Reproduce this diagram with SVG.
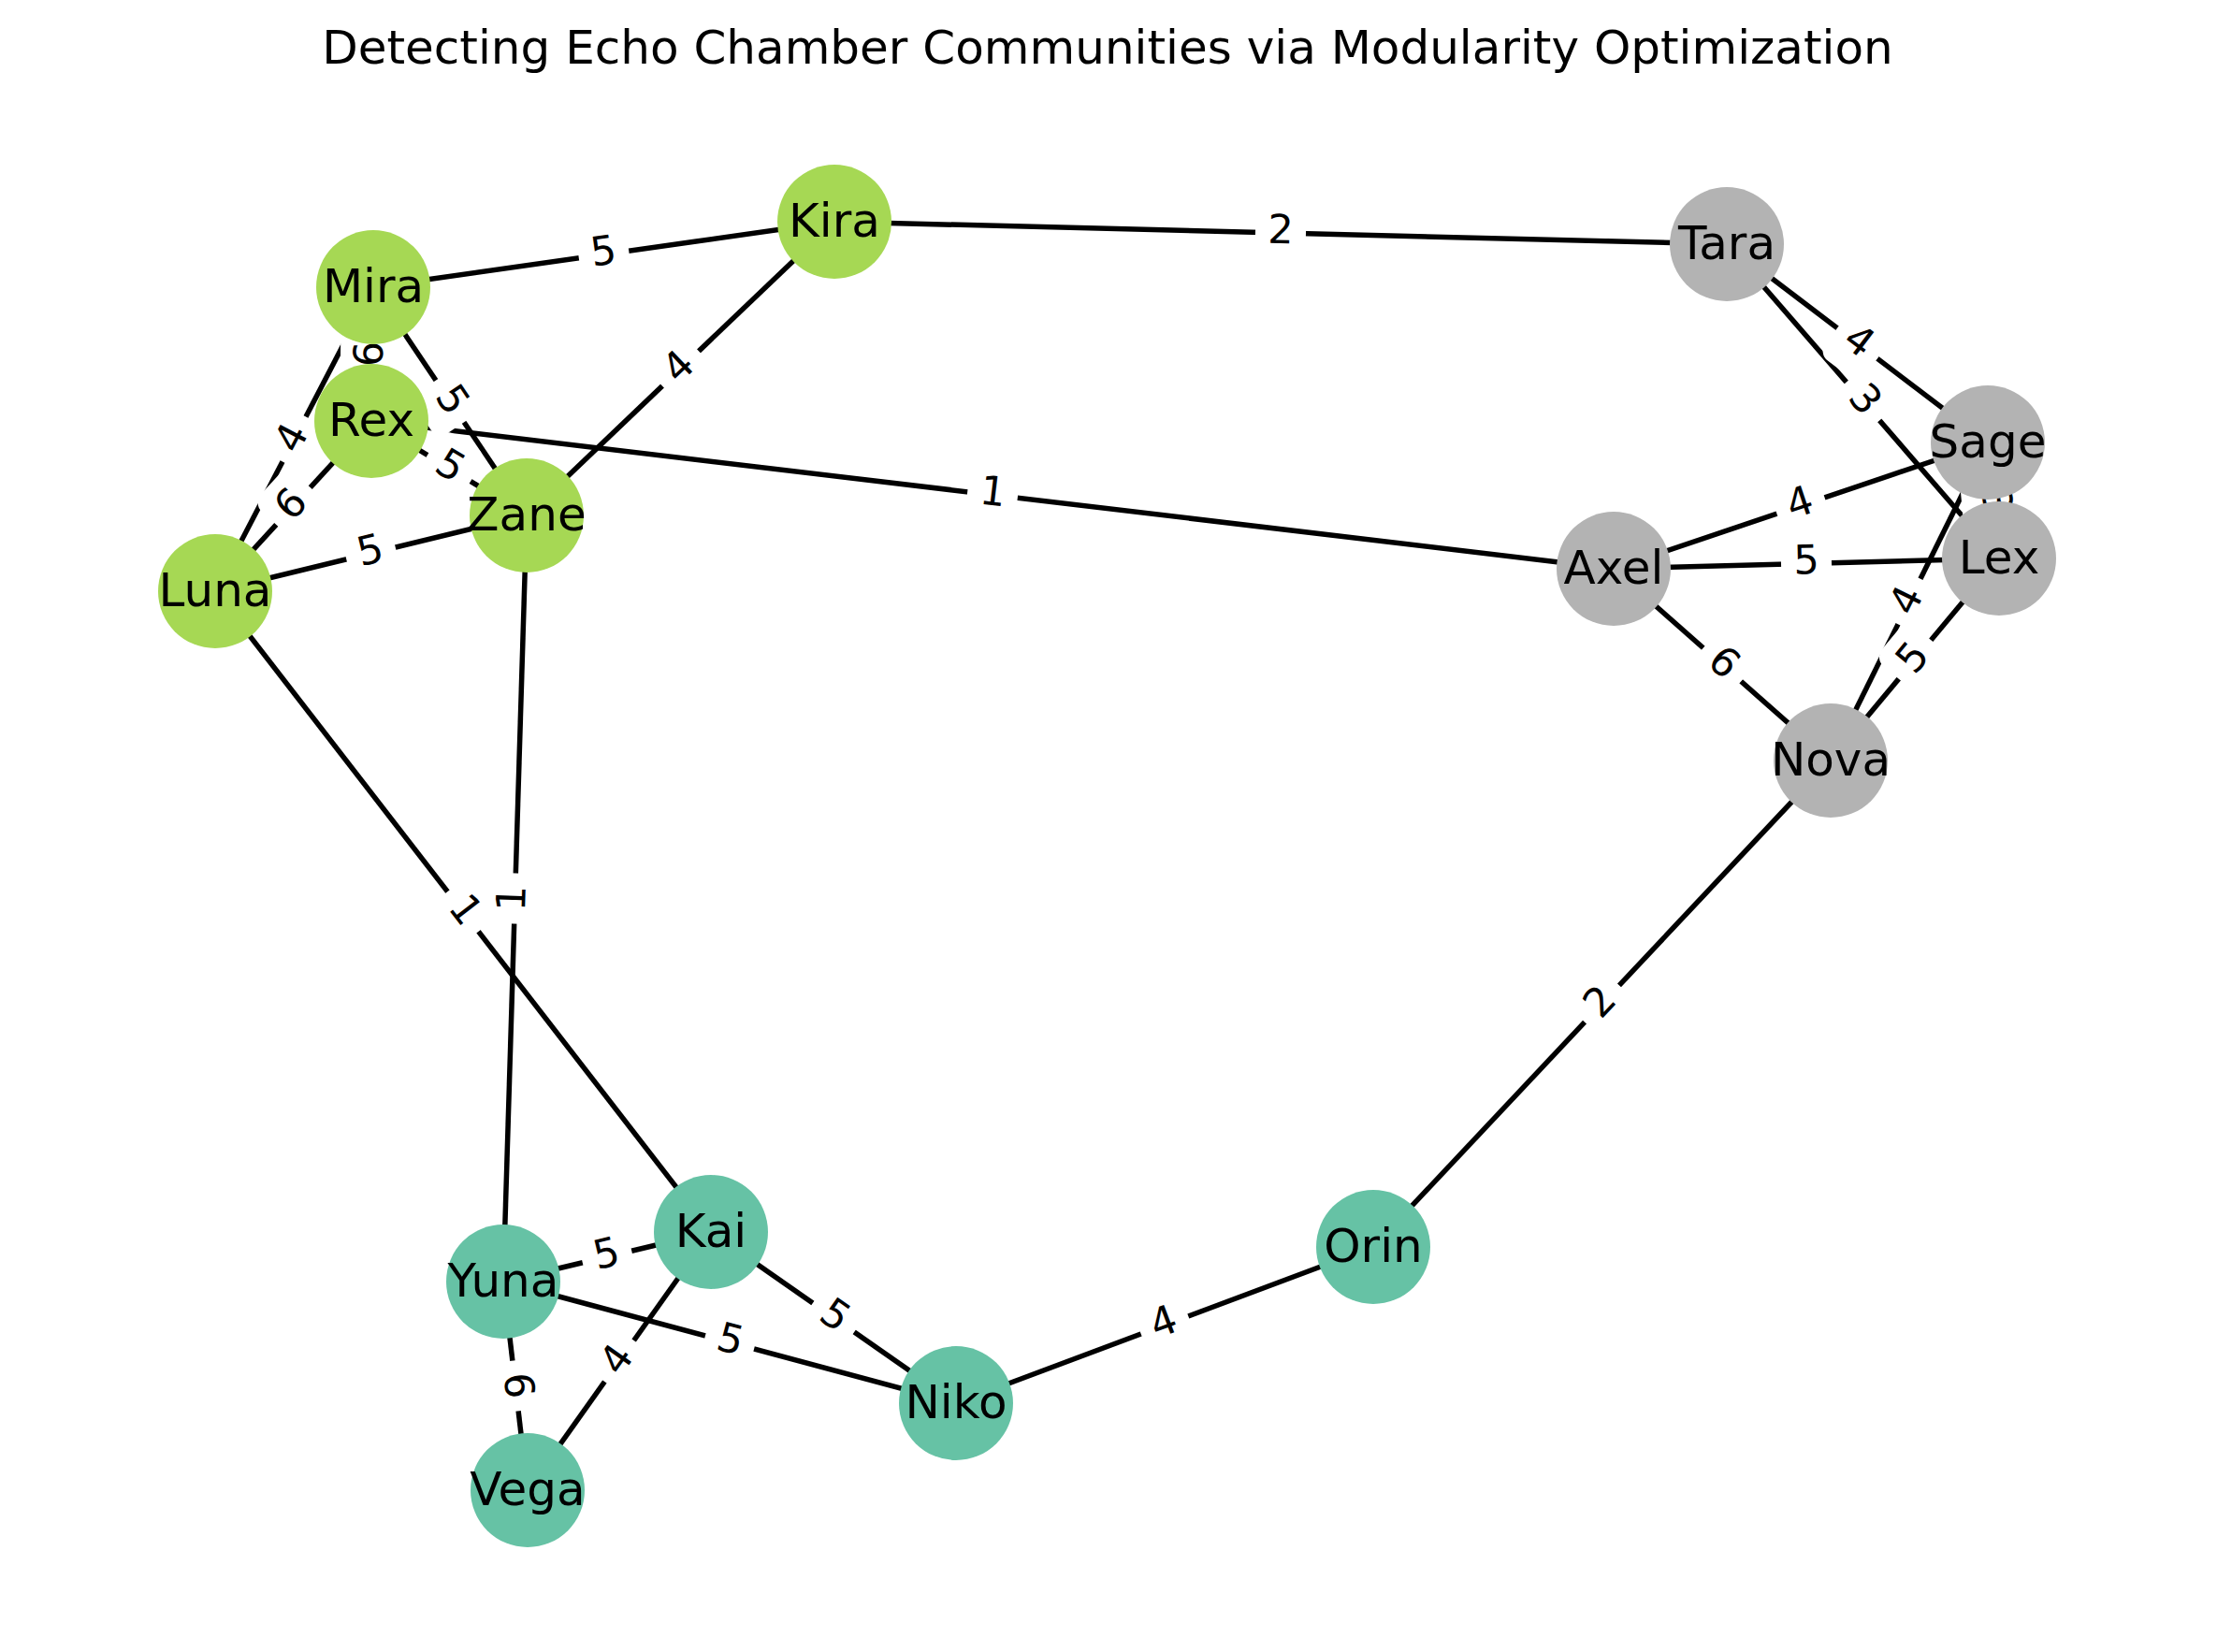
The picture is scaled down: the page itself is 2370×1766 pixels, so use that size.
<svg xmlns="http://www.w3.org/2000/svg" width="2370" height="1766" viewBox="0 0 2370 1766">
<style>
.e{stroke:#000;stroke-width:5.5;fill:none}
.lb{fill:#fff;stroke:none}
.el{font-family:"DejaVu Sans",sans-serif;font-size:43px;text-anchor:middle;fill:#000}
.nl{font-family:"DejaVu Sans",sans-serif;font-size:50px;text-anchor:middle;fill:#000}
.g1{fill:#a6d854}
.g2{fill:#b3b3b3}
.g3{fill:#66c2a5}
.t{font-family:"DejaVu Sans",sans-serif;font-size:50px;text-anchor:middle;fill:#000}
</style>
<defs>
<rect id="box" class="lb" x="-27" y="-34" width="54" height="68" rx="13"/>
</defs>
<rect x="0" y="0" width="2370" height="1766" fill="#fff"/>
<text class="t" x="1184" y="68">Detecting Echo Chamber Communities via Modularity Optimization</text>
<g id="connectors">
<line class="e" x1="399" y1="307" x2="892" y2="237"/>
<line class="e" x1="892" y1="237" x2="1846" y2="261"/>
<line class="e" x1="892" y1="237" x2="563" y2="551"/>
<line class="e" x1="399" y1="307" x2="563" y2="551"/>
<line class="e" x1="399" y1="307" x2="230" y2="632"/>
<line class="e" x1="399" y1="307" x2="397" y2="450"/>
<line class="e" x1="397" y1="450" x2="230" y2="632"/>
<line class="e" x1="397" y1="450" x2="563" y2="551"/>
<line class="e" x1="397" y1="450" x2="1725" y2="608"/>
<line class="e" x1="230" y1="632" x2="563" y2="551"/>
<line class="e" x1="230" y1="632" x2="760" y2="1317"/>
<line class="e" x1="563" y1="551" x2="538" y2="1370"/>
<line class="e" x1="1846" y1="261" x2="2125" y2="473"/>
<line class="e" x1="1846" y1="261" x2="2137" y2="597"/>
<line class="e" x1="2125" y1="473" x2="1725" y2="608"/>
<line class="e" x1="2125" y1="473" x2="2137" y2="597"/>
<line class="e" x1="1725" y1="608" x2="2137" y2="597"/>
<line class="e" x1="1725" y1="608" x2="1957" y2="813"/>
<line class="e" x1="2125" y1="473" x2="1957" y2="813"/>
<line class="e" x1="2137" y1="597" x2="1957" y2="813"/>
<line class="e" x1="1957" y1="813" x2="1468" y2="1333"/>
<line class="e" x1="1468" y1="1333" x2="1022" y2="1500"/>
<line class="e" x1="760" y1="1317" x2="1022" y2="1500"/>
<line class="e" x1="538" y1="1370" x2="1022" y2="1500"/>
<line class="e" x1="538" y1="1370" x2="760" y2="1317"/>
<line class="e" x1="538" y1="1370" x2="564" y2="1593"/>
<line class="e" x1="760" y1="1317" x2="564" y2="1593"/>
</g>
<g id="edge-labels">
<g transform="translate(645.5,272) rotate(-8.08)"><use href="#box"/><text class="el" y="11">5</text></g>
<g transform="translate(1369,249) rotate(1.44)"><use href="#box"/><text class="el" y="11">2</text></g>
<g transform="translate(727.5,394) rotate(-43.7)"><use href="#box"/><text class="el" y="11">4</text></g>
<g transform="translate(481,429) rotate(56.1)"><use href="#box"/><text class="el" y="11">5</text></g>
<g transform="translate(314.5,469.5) rotate(-62.5)"><use href="#box"/><text class="el" y="11">4</text></g>
<g transform="translate(398,378.5) rotate(-89.2)"><use href="#box"/><text class="el" y="11">6</text></g>
<g transform="translate(313.5,541) rotate(-47.5)"><use href="#box"/><text class="el" y="11">6</text></g>
<g transform="translate(480,500.5) rotate(31.3)"><use href="#box"/><text class="el" y="11">5</text></g>
<g transform="translate(1061,529) rotate(6.78)"><use href="#box"/><text class="el" y="11">1</text></g>
<g transform="translate(396.5,591.5) rotate(-13.7)"><use href="#box"/><text class="el" y="11">5</text></g>
<g transform="translate(495,974.5) rotate(52.27)"><use href="#box"/><text class="el" y="11">1</text></g>
<g transform="translate(550.5,960.5) rotate(-88.25)"><use href="#box"/><text class="el" y="11">1</text></g>
<g transform="translate(1985.5,367) rotate(37.2)"><use href="#box"/><text class="el" y="11">4</text></g>
<g transform="translate(1991.5,429) rotate(49.1)"><use href="#box"/><text class="el" y="11">3</text></g>
<g transform="translate(1925,540.5) rotate(-18.65)"><use href="#box"/><text class="el" y="11">4</text></g>
<g transform="translate(2131,535) rotate(84.5)"><use href="#box"/><text class="el" y="11">3</text></g>
<g transform="translate(1931,602.5) rotate(-1.53)"><use href="#box"/><text class="el" y="11">5</text></g>
<g transform="translate(1841,710.5) rotate(41.46)"><use href="#box"/><text class="el" y="11">6</text></g>
<g transform="translate(2041,643) rotate(-63.7)"><use href="#box"/><text class="el" y="11">4</text></g>
<g transform="translate(2047,705) rotate(-50.2)"><use href="#box"/><text class="el" y="11">5</text></g>
<g transform="translate(1712.5,1073) rotate(-46.8)"><use href="#box"/><text class="el" y="11">2</text></g>
<g transform="translate(1245,1416.5) rotate(-20.5)"><use href="#box"/><text class="el" y="11">4</text></g>
<g transform="translate(891,1408.5) rotate(34.9)"><use href="#box"/><text class="el" y="11">5</text></g>
<g transform="translate(780,1435) rotate(15)"><use href="#box"/><text class="el" y="11">5</text></g>
<g transform="translate(649,1343.5) rotate(-13.4)"><use href="#box"/><text class="el" y="11">5</text></g>
<g transform="translate(551,1481.5) rotate(83.35)"><use href="#box"/><text class="el" y="11">6</text></g>
<g transform="translate(662,1455) rotate(-54.6)"><use href="#box"/><text class="el" y="11">4</text></g>
</g>
<g id="node-Kira"><circle class="g1" cx="892" cy="237" r="61"/><text class="nl" x="892" y="253">Kira</text></g>
<g id="node-Mira"><circle class="g1" cx="399" cy="307" r="61"/><text class="nl" x="399" y="323">Mira</text></g>
<g id="node-Rex"><circle class="g1" cx="397" cy="450" r="61"/><text class="nl" x="397" y="466">Rex</text></g>
<g id="node-Zane"><circle class="g1" cx="563" cy="551" r="61"/><text class="nl" x="563" y="567">Zane</text></g>
<g id="node-Luna"><circle class="g1" cx="230" cy="632" r="61"/><text class="nl" x="230" y="648">Luna</text></g>
<g id="node-Tara"><circle class="g2" cx="1846" cy="261" r="61"/><text class="nl" x="1846" y="277">Tara</text></g>
<g id="node-Sage"><circle class="g2" cx="2125" cy="473" r="61"/><text class="nl" x="2125" y="489">Sage</text></g>
<g id="node-Lex"><circle class="g2" cx="2137" cy="597" r="61"/><text class="nl" x="2137" y="613">Lex</text></g>
<g id="node-Axel"><circle class="g2" cx="1725" cy="608" r="61"/><text class="nl" x="1725" y="624">Axel</text></g>
<g id="node-Nova"><circle class="g2" cx="1957" cy="813" r="61"/><text class="nl" x="1957" y="829">Nova</text></g>
<g id="node-Orin"><circle class="g3" cx="1468" cy="1333" r="61"/><text class="nl" x="1468" y="1349">Orin</text></g>
<g id="node-Kai"><circle class="g3" cx="760" cy="1317" r="61"/><text class="nl" x="760" y="1333">Kai</text></g>
<g id="node-Yuna"><circle class="g3" cx="538" cy="1370" r="61"/><text class="nl" x="538" y="1386">Yuna</text></g>
<g id="node-Niko"><circle class="g3" cx="1022" cy="1500" r="61"/><text class="nl" x="1022" y="1516">Niko</text></g>
<g id="node-Vega"><circle class="g3" cx="564" cy="1593" r="61"/><text class="nl" x="564" y="1609">Vega</text></g>
</svg>
